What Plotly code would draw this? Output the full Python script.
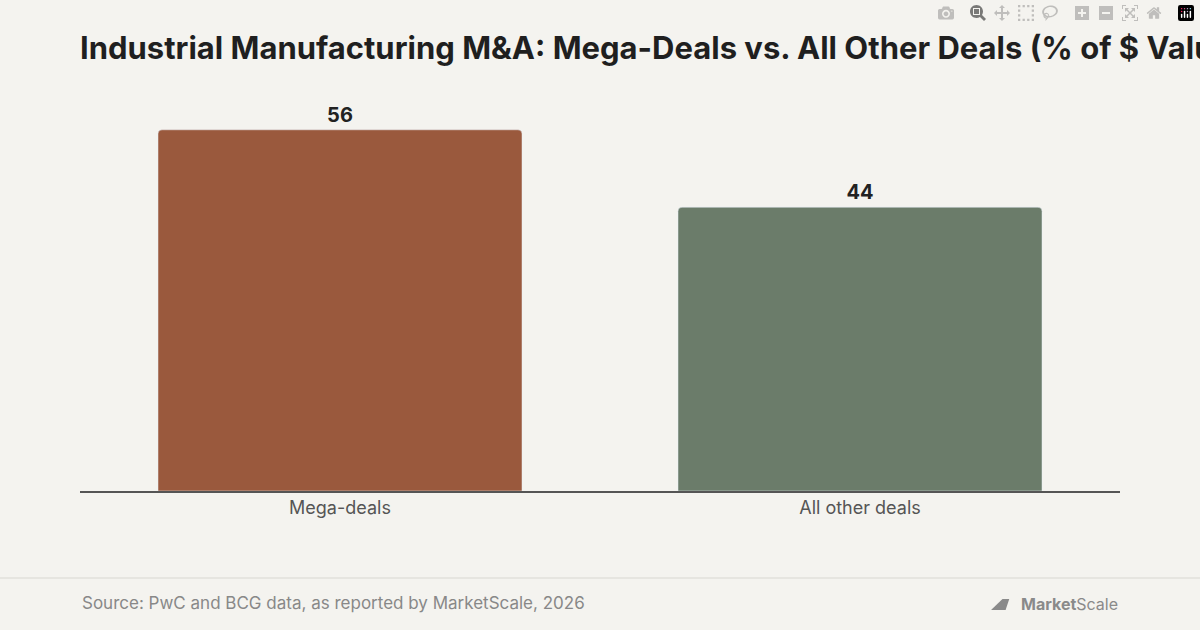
import plotly.graph_objects as go

categories = ["Mega-deals", "All other deals"]
values = [56, 44]
colors = ["#9A593D", "#6B7C6A"]

title = "Industrial Manufacturing M&A: Mega-Deals vs. All Other Deals (% of $ Value)"
source = "Source: PwC and BCG data, as reported by MarketScale, 2026"

W, H = 1200, 630

fig = go.Figure(go.Bar(
    x=categories, y=values, marker_color=colors, width=0.7,
    text=[str(v) for v in values], textposition="outside", cliponaxis=False,
    textfont=dict(family="Inter", size=20, color="#222222", weight="bold"),
))

fig.update_layout(
    width=W, height=H,
    paper_bgcolor="#F4F3EF", plot_bgcolor="#F4F3EF",
    margin=dict(l=80, r=80, t=104, b=139),
    barcornerradius=4,
    showlegend=False,
    font=dict(family="Inter", color="#555555"),
    title=dict(text="<b>" + title + "</b>", x=80 / W, xanchor="left", xref="container",
               y=1 - 48 / H, yanchor="middle", yref="container",
               font=dict(size=31, color="#1F1F1F", family="Inter")),
    xaxis=dict(showgrid=False, showline=True, linecolor="#555555", linewidth=1.5,
               tickfont=dict(size=18, color="#555555"), ticks=""),
    yaxis=dict(range=[0, 60], visible=False),
)

# footer separator
fig.add_shape(type="line", xref="paper", yref="paper",
              x0=-80 / 1040, x1=1 + 80 / 1040, y0=-(578 - 491) / 387, y1=-(578 - 491) / 387,
              line=dict(color="#E2E0DB", width=1.5))
fig.add_annotation(text=source, xref="paper", yref="paper", x=0, y=-(603 - 491) / 387,
                   xanchor="left", yanchor="middle", showarrow=False,
                   font=dict(size=17, color="#888888"))
fig.add_annotation(text="<b>Market</b>Scale", xref="paper", yref="paper", x=1, y=-(604 - 491) / 387,
                   xanchor="right", yanchor="middle", showarrow=False,
                   font=dict(size=16, color="#8A8A8A"))
# small logo mark
fig.add_shape(type="path", xref="x domain", yref="y domain",
              path="M 0.8760 -0.3075 L 0.8870 -0.2790 L 0.8935 -0.2790 L 0.8900 -0.3075 Z",
              fillcolor="#8A8A8A", line=dict(width=0))

fig.write_html("out.html", post_script="document.body.style.margin='0';")
